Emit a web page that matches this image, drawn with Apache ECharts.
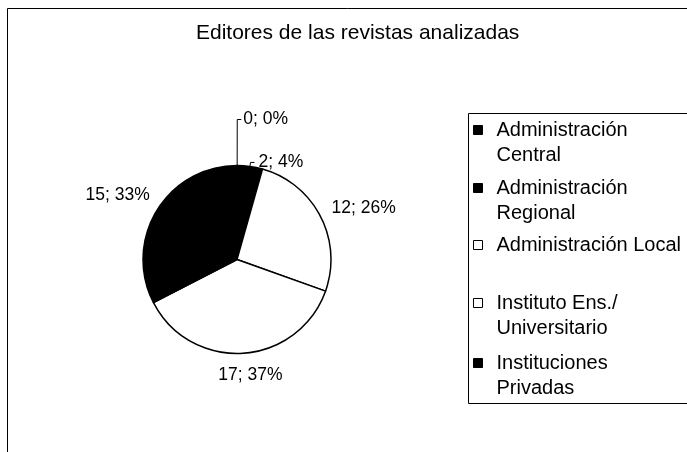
<!DOCTYPE html>
<html>
<head>
<meta charset="utf-8">
<script src="https://cdn.jsdelivr.net/npm/echarts@6/dist/echarts.min.js"></script>
<style>html,body{margin:0;padding:0;background:#fff}#c{width:687px;height:452px}</style>
</head>
<body>
<div id="c"></div>
<script>
const titleText = 'Editores de las revistas analizadas';
const categories = ['Administración Central', 'Administración Regional', 'Administración Local', 'Instituto Ens./Universitario', 'Instituciones Privadas'];
const values = [0, 2, 12, 17, 15];
const legendLabels = ['Administración\nCentral', 'Administración\nRegional', 'Administración Local', 'Instituto Ens./\nUniversitario', 'Instituciones\nPrivadas'];
const sliceColors = ['#000000', '#000000', '#ffffff', '#ffffff', '#000000'];

// layout / style settings
const FONT = 'Liberation Sans, Arial, sans-serif';
const lineLens = [[46, 4, 2], [4, 4, 4], [0, 0, 5], [0, 0, 5], [0, 0, 5]];
const labelNudges = [[0, 0], [0, 0], [6, -8], [-30, 22], [-2, -15]];
const legendTops = [92.5, 150.5, 232.5, 265.5, 325.5];

const chart = echarts.init(document.getElementById('c'), null, {renderer: 'canvas'});

const pieData = categories.map((name, i) => ({
  name: name,
  value: values[i],
  itemStyle: {color: sliceColors[i]},
  labelLine: {show: lineLens[i][0] > 0, length: lineLens[i][0], length2: lineLens[i][1]},
  label: {distanceToLabelLine: lineLens[i][2]}
}));

const legends = categories.map((name, i) => {
  const twoLine = legendLabels[i].indexOf('\n') >= 0;
  return {
    data: [name],
    orient: 'vertical',
    left: 473,
    top: legendTops[i],
    padding: 0,
    icon: 'rect',
    itemWidth: 9,
    itemHeight: 9,
    selectedMode: false,
    itemStyle: {borderColor: '#000', borderWidth: 1},
    formatter: n => (twoLine ? '\u00a0\n' : '') + legendLabels[categories.indexOf(n)],
    textStyle: {
      fontFamily: FONT, fontSize: 20, color: '#000', lineHeight: 25,
      padding: [0, 0, 0, 9]
    }
  };
});

chart.setOption({
  animation: false,
  backgroundColor: '#fff',
  title: {
    text: titleText,
    left: 191,
    top: 18,
    textStyle: {fontFamily: FONT, fontSize: 21, fontWeight: 'normal', color: '#000'}
  },
  legend: legends,
  graphic: [
    {type: 'polyline', shape: {points: [[7.5, 452], [7.5, 8.5], [687, 8.5]]}, style: {stroke: '#000', lineWidth: 1, fill: null}, silent: true},
    {type: 'rect', shape: {x: 468.5, y: 113.5, width: 240, height: 290}, style: {stroke: '#000', lineWidth: 1, fill: null}, silent: true}
  ],
  series: [{
    type: 'pie',
    center: [237, 259.5],
    radius: 94,
    startAngle: 89.9,
    clockwise: true,
    avoidLabelOverlap: false,
    percentPrecision: 0,
    emphasis: {disabled: true},
    itemStyle: {borderColor: '#000', borderWidth: 1.5},
    label: {
      show: true,
      position: 'outside',
      formatter: '{c}; {d}%',
      fontFamily: FONT,
      fontSize: 17.5,
      color: '#000'
    },
    labelLine: {lineStyle: {color: '#000', width: 1}, smooth: false},
    labelLayout: p => ({dx: labelNudges[p.dataIndex][0], dy: labelNudges[p.dataIndex][1]}),
    data: pieData
  }]
});
</script>
</body>
</html>
